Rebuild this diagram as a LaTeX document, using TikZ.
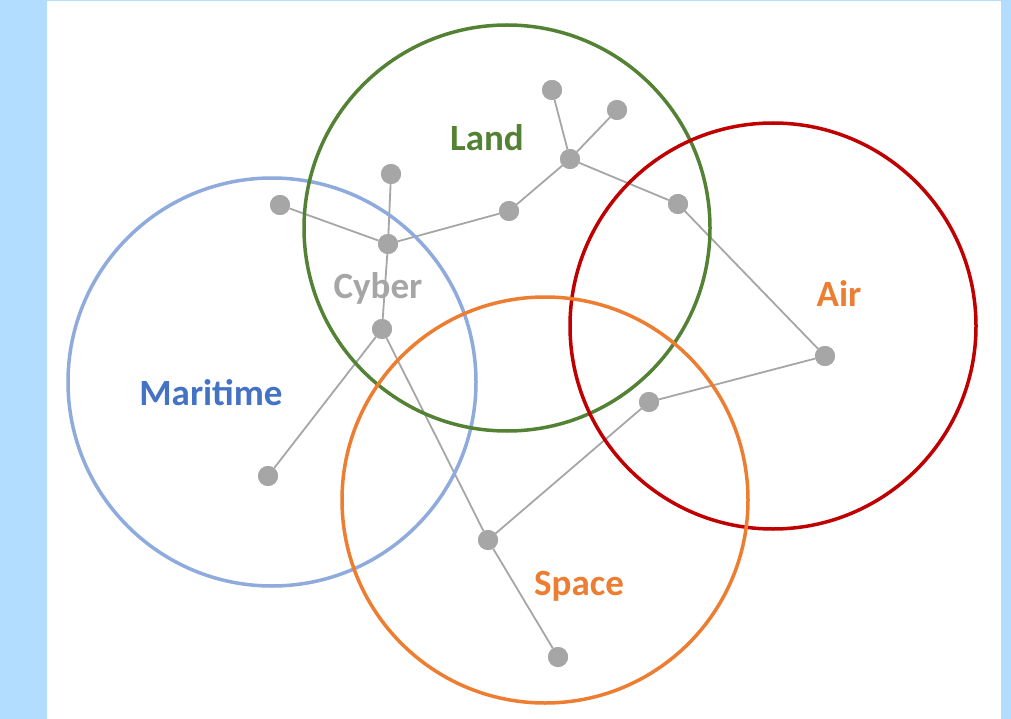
\documentclass[tikz,border=0pt]{standalone}
\usepackage{fontspec}
\setmainfont{Carlito}
\definecolor{bgblue}{HTML}{B3DDFF}
\definecolor{landgreen}{HTML}{548235}
\definecolor{seablue}{HTML}{8FAADC}
\definecolor{seatext}{HTML}{4472C4}
\definecolor{airred}{HTML}{C00000}
\definecolor{spaceorange}{HTML}{ED7D31}
\definecolor{netgray}{HTML}{A6A6A6}
\begin{document}
\begin{tikzpicture}[x=1pt,y=-1pt,
  dot/.style={circle,fill=netgray,draw=none,minimum size=20pt,inner sep=0pt},
  link/.style={draw=netgray,line width=1.8pt},
  realm/.style={line width=3.5pt},
  lbl/.style={font=\fontsize{37}{44}\selectfont\bfseries,inner sep=0pt}]
\useasboundingbox (0,0) rectangle (1011,719);
\fill[bgblue] (0,0) rectangle (1011,719);
\fill[white] (47,1) rectangle (1001,719);
% nodes
\node[dot] (a) at (552,90) {};
\node[dot] (b) at (617,110) {};
\node[dot] (c) at (570,159) {};
\node[dot] (d) at (678,204) {};
\node[dot] (e) at (509,211) {};
\node[dot] (f) at (391,174) {};
\node[dot] (g) at (280,205) {};
\node[dot] (h) at (388,244) {};
\node[dot] (i) at (382,329) {};
\node[dot] (j) at (268,476) {};
\node[dot] (k) at (825,356) {};
\node[dot] (l) at (649,402) {};
\node[dot] (m) at (488,540) {};
\node[dot] (n) at (558,657) {};
% links
\draw[link] (a) -- (c);
\draw[link] (b) -- (c);
\draw[link] (c) -- (e);
\draw[link] (c) -- (d);
\draw[link] (d) -- (k);
\draw[link] (k) -- (l);
\draw[link] (l) -- (m);
\draw[link] (m) -- (n);
\draw[link] (i) -- (m);
\draw[link] (e) -- (h);
\draw[link] (g) -- (h);
\draw[link] (f) -- (h);
\draw[link] (h) -- (i);
\draw[link] (i) -- (j);
% domains
\draw[realm,seablue] (272,382) circle[radius=204];
\draw[realm,landgreen] (507,228) circle[radius=203];
\draw[realm,airred] (773,326) circle[radius=203];
\draw[realm,spaceorange] (545,500) circle[radius=203];
% redraw dots on top
\foreach \p in {a,b,c,d,e,f,g,h,i,j,k,l,m,n} \fill[netgray] (\p) circle[radius=10];
% labels
\node[lbl,text=landgreen] (landlbl) at (487,138) {Land};
\node[lbl,text=netgray] (cyberlbl) at (378,288) {Cyber};
\node[lbl,text=seatext] (sealbl) at (211,393) {Maritime};
\node[lbl,text=spaceorange] (airlbl) at (839,294) {Air};
\node[lbl,text=spaceorange] (spacelbl) at (579,586) {Space};
\end{tikzpicture}
\end{document}
